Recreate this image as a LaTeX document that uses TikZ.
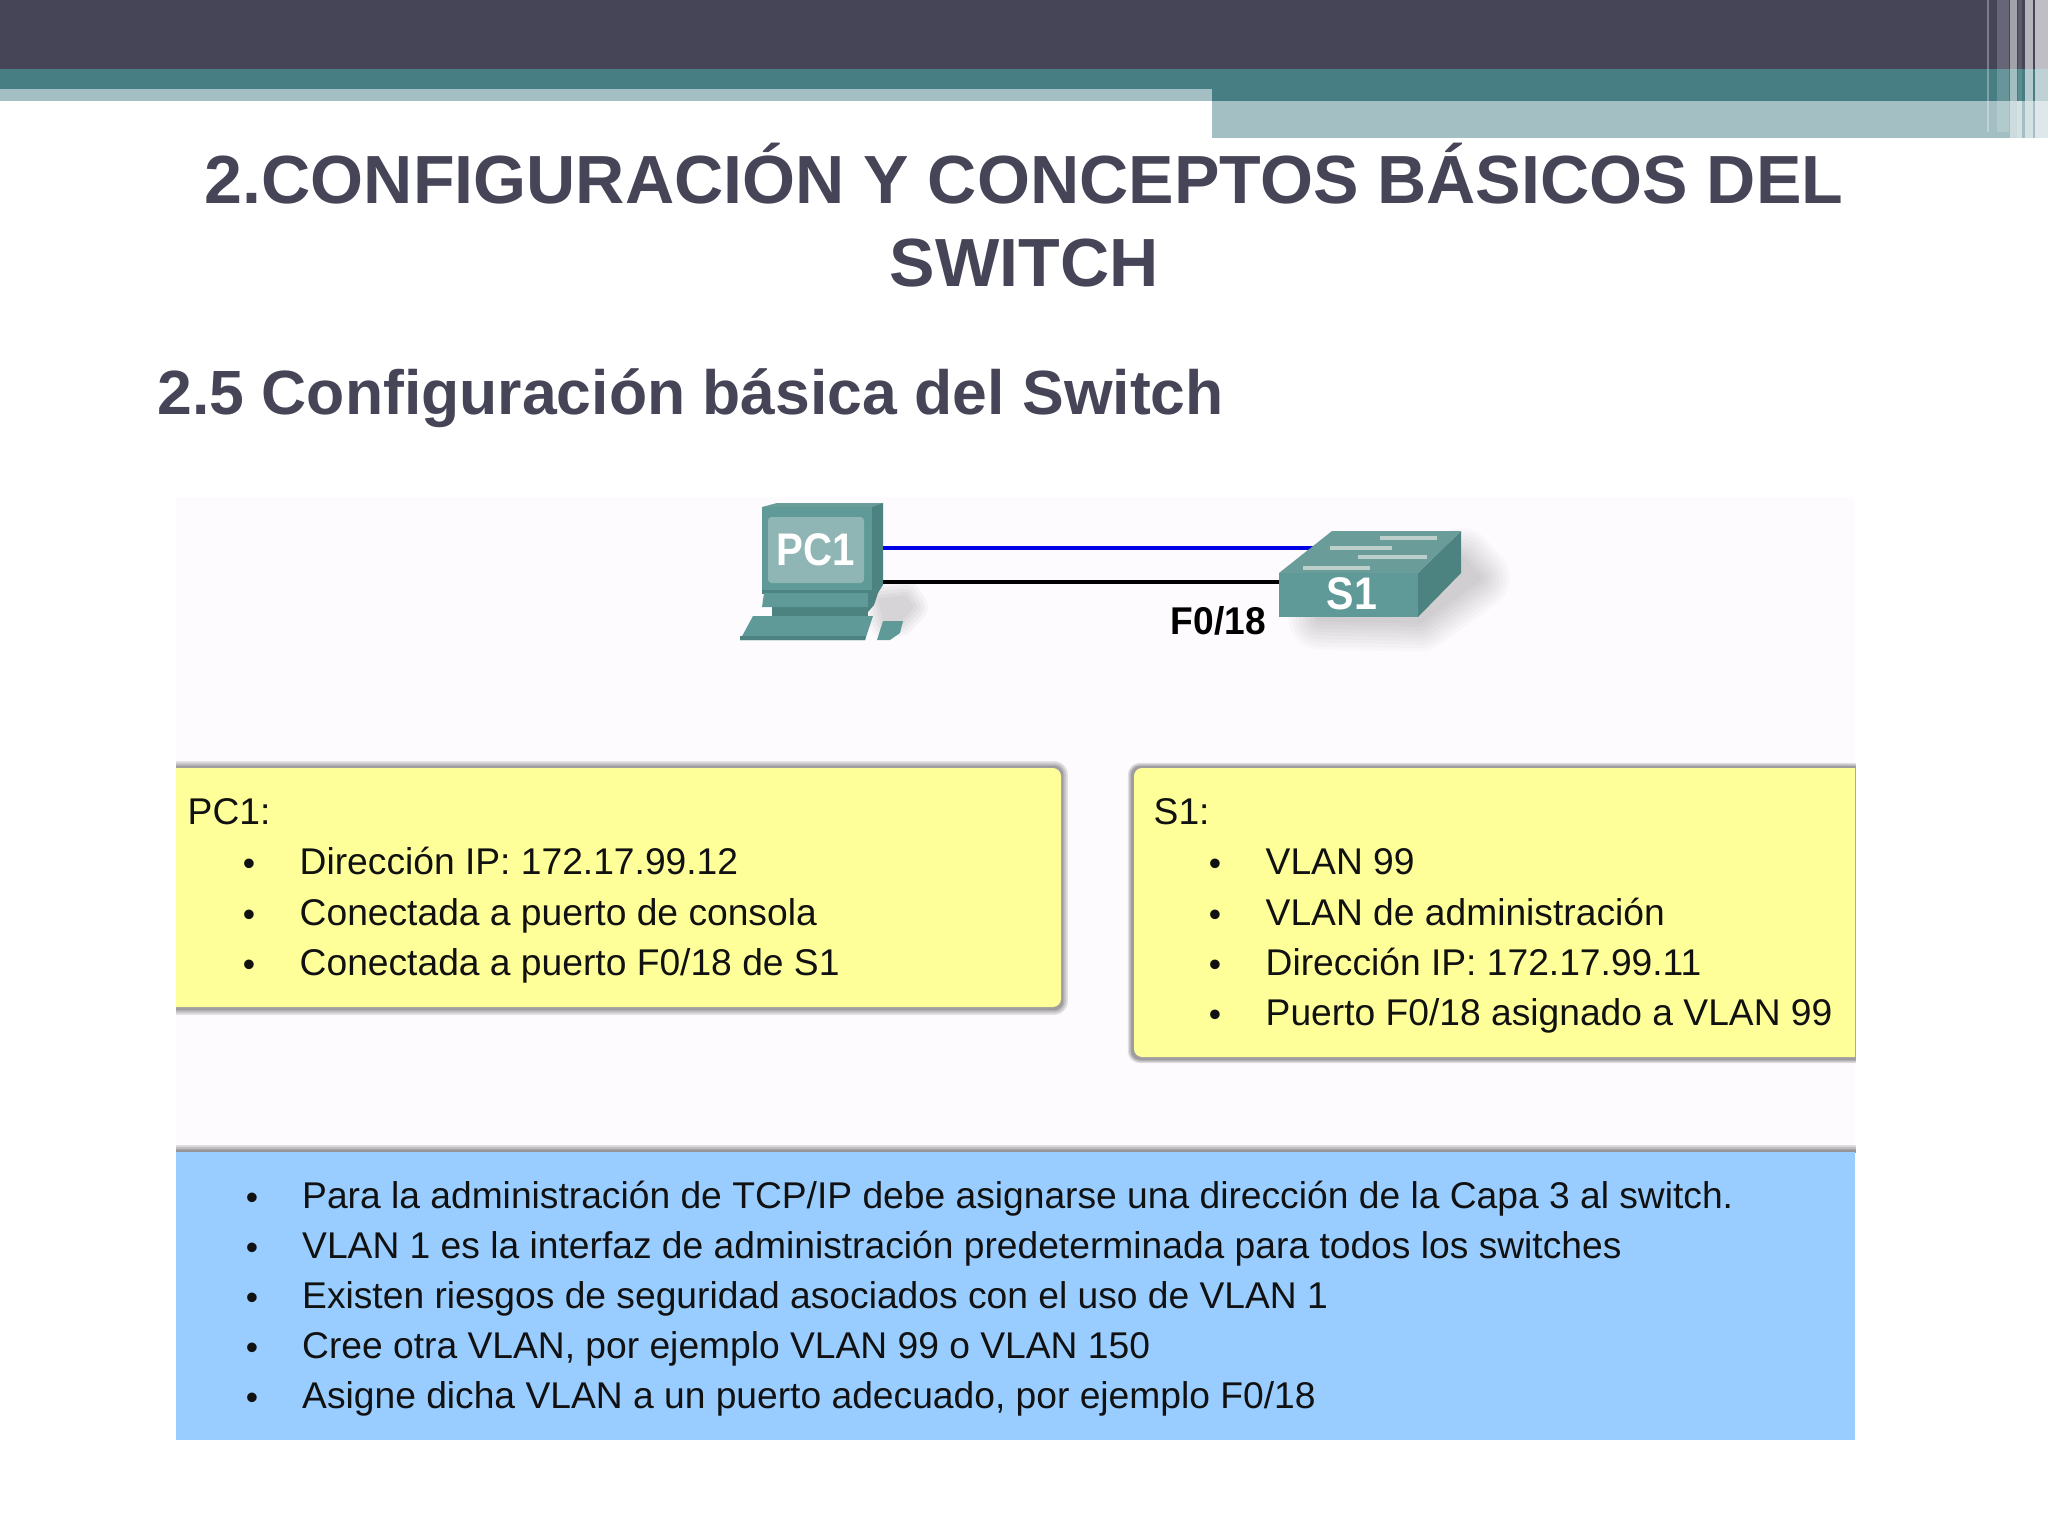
\documentclass[tikz,border=0pt]{standalone}
\usepackage{fontspec}
\setmainfont{Liberation Sans}
\definecolor{hdark}{HTML}{464558}
\definecolor{hteal}{HTML}{467E84}
\definecolor{hlight}{HTML}{A3BFC3}
\definecolor{canvasbg}{HTML}{FDFBFE}
\definecolor{noteyellow}{HTML}{FFFF99}
\definecolor{noteblue}{HTML}{99CCFF}
\definecolor{icona}{HTML}{5F9A98}
\definecolor{iconb}{HTML}{4C8280}
\definecolor{iconc}{HTML}{8FB6B4}
\definecolor{icond}{HTML}{6A9C9A}
\definecolor{iconl}{HTML}{BCCFCB}
\definecolor{bodytext}{HTML}{111111}
\tikzset{
  x=0.01cm,y=-0.01cm,
  title/.style={font=\bfseries\fontsize{19.38pt}{24pt}\selectfont,text=hdark,anchor=base,inner sep=0pt},
  subtitle/.style={font=\bfseries\fontsize{17.77pt}{21pt}\selectfont,text=hdark,anchor=base west,inner sep=0pt},
  line/.style={font=\fontsize{10.58pt}{12pt}\selectfont,text=bodytext,anchor=base west,inner sep=0pt},
  bul/.style={font=\fontsize{10pt}{12pt}\selectfont,text=bodytext,anchor=base,inner sep=0pt,yshift=-0.3pt},
  icontext/.style={font=\bfseries\fontsize{13pt}{15pt}\selectfont,text=white,inner sep=0pt},
  portlabel/.style={font=\bfseries\fontsize{11pt}{13pt}\selectfont,text=black,anchor=base west,inner sep=0pt},
  stripe/.style={fill=white,fill opacity=#1,draw=none},
}
% soft shadow: #1 opacity per layer, #2 list of stroke widths, #3 path
\newcommand{\softshadow}[3]{%
  \foreach \w in {#2}{%
    \begin{scope}[transparency group,opacity=#1]
      \filldraw[black,line width=\w pt,line join=round] #3;
    \end{scope}}}
\begin{document}
\begin{tikzpicture}
\useasboundingbox (0,0) rectangle (2048,1536);
\fill[white] (0,0) rectangle (2048,1536);
% header
\fill[hdark] (0,0) rectangle (2048,69);
\fill[hteal] (0,69) rectangle (2048,101);
\fill[hlight] (0,89) rectangle (1212,101);
\fill[hlight] (1212,101) rectangle (2048,138);
\foreach \xa/\xb/\o in {1987/1989/.3,1997/2009/.18,2010/2017/.5,2018/2022/.12,2025/2033/.6,2035/2048/.65}
  \fill[stripe=\o] (\xa,0) rectangle (\xb,101);
\foreach \xa/\xb/\o in {1987/1989/.3,1997/2009/.18}
  \fill[stripe=\o] (\xa,101) rectangle (\xb,132);
\foreach \xa/\xb/\o in {2010/2017/.45,2017/2022/.55,2025/2033/.55,2035/2048/.65}
  \fill[stripe=\o] (\xa,101) rectangle (\xb,138);
% titles
\node[title] (t1) at (1024,203.5) {2.CONFIGURACIÓN Y CONCEPTOS BÁSICOS DEL};
\node[title] (t2) at (1024,286) {SWITCH};
\node[subtitle] (t3) at (157,414) {2.5 Configuración básica del Switch};
% canvas
\fill[canvasbg] (176,497) rectangle (1855,1440);
% note boxes with soft shadows, cut at the canvas sides
\begin{scope}
  \clip (176,740) rectangle (1855,1152);
  \softshadow{.11}{3.4,2.4,1.4,.7}{[rounded corners=2.3pt] (120,767) rectangle (1062,1009)}
  \softshadow{.11}{2.4,1.7,1,.5}{[rounded corners=2.3pt] (1132,767) rectangle (1910,1059)}
  \softshadow{.12}{3.4,2.4,1.4,.6}{(120,1151) rectangle (1910,1300)}
  \fill[noteyellow,rounded corners=2.3pt] (120,768) rectangle (1061,1007);
  \fill[noteyellow,rounded corners=2.3pt] (1134,768) rectangle (1910,1057);
\end{scope}
\fill[noteblue] (176,1152) rectangle (1855,1440);
% PC1 note
\node[line] (pa) at (187,824) {PC1:};
\node[bul] (pab1) at (249,874) {•};
\node[line] (pa1) at (299,874.5) {Dirección IP: 172.17.99.12};
\node[bul] (pab2) at (249,925) {•};
\node[line] (pa2) at (299,925) {Conectada a puerto de consola};
\node[bul] (pab3) at (249,975) {•};
\node[line] (pa3) at (299,975) {Conectada a puerto F0/18 de S1};
% S1 note
\node[line] (sa) at (1153,824) {S1:};
\node[bul] (sab1) at (1215,874) {•};
\node[line] (sa1) at (1265,874.5) {VLAN 99};
\node[bul] (sab2) at (1215,925) {•};
\node[line] (sa2) at (1265,925) {VLAN de administración};
\node[bul] (sab3) at (1215,975) {•};
\node[line] (sa3) at (1265,975) {Dirección IP: 172.17.99.11};
\node[bul] (sab4) at (1215,1025) {•};
\node[line] (sa4) at (1265,1025) {Puerto F0/18 asignado a VLAN 99};
% blue note
\node[bul] (bb1) at (252,1208) {•};
\node[line] (b1) at (301.5,1208) {Para la administración de TCP/IP debe asignarse una dirección de la Capa 3 al switch.};
\node[bul] (bb2) at (252,1258) {•};
\node[line] (b2) at (301.5,1258) {VLAN 1 es la interfaz de administración predeterminada para todos los switches};
\node[bul] (bb3) at (252,1308) {•};
\node[line] (b3) at (301.5,1308) {Existen riesgos de seguridad asociados con el uso de VLAN 1};
\node[bul] (bb4) at (252,1358) {•};
\node[line] (b4) at (301.5,1358) {Cree otra VLAN, por ejemplo VLAN 99 o VLAN 150};
\node[bul] (bb5) at (252,1408) {•};
\node[line] (b5) at (301.5,1408) {Asigne dicha VLAN a un puerto adecuado, por ejemplo F0/18};
% shadows of the icons
\softshadow{.03}{1,3,5,7,9}{(880,600) -- (905,597) -- (912,607) -- (900,620) -- (885,622) -- cycle}
\softshadow{.018}{2,4,6,8,10,12,14,16,18}{(1320,618) -- (1420,620) -- (1478,578) -- (1462,560) -- cycle}
% connectors
\coordinate (pcA) at (882,548);
\coordinate (swA) at (1316,548);
\coordinate (pcB) at (877,582);
\coordinate (swB) at (1281,582);
\draw[blue!90!black,line width=0.95pt] (pcA) -- (swA);
\draw[black,line width=1pt] (pcB) -- (swB);
% PC icon
\fill[iconb] (777,503) -- (883,503) -- (883,585) -- (872,602) -- (872,507) -- cycle;
\fill[icond] (762,507) -- (777,503) -- (883,503) -- (872,507) -- cycle;
\fill[icona] (762,507) rectangle (872,590);
\fill[iconb] (762,590) -- (872,590) -- (872,594) -- (762,594) -- cycle;
\fill[iconc,rounded corners=1pt] (768,517) rectangle (864,583);
\fill[iconb] (772,605) -- (868,605) -- (868,618) -- (772,618) -- cycle;
\fill[iconb] (868,593) -- (879,590) -- (874,605) -- (868,612) -- cycle;
\fill[icona] (764,593) -- (868,593) -- (868,607) -- (762,607) -- cycle;
\fill[icona] (753,616) -- (873,616) -- (865,640) -- (740,640) -- cycle;
\fill[iconb] (740,636) -- (866,636) -- (865,640) -- (740,640) -- cycle;
\fill[icona] (883,621) -- (903,621) -- (900,633) -- (890,640) -- (877,640) -- cycle;
\node[icontext] (pc) at (816,550) {\scalebox{.88}[1]{PC1}};
% switch icon
\fill[iconb] (1418,573) -- (1461,531) -- (1461,573) -- (1418,617) -- cycle;
\fill[icond] (1279,573) -- (1332,531) -- (1461,531) -- (1418,573) -- cycle;
\fill[icona] (1279,573) rectangle (1418,617);
\foreach \xa/\ya/\xb in {1380/538/1437,1330/548/1392,1358/557/1427,1303/568/1370}
  \draw[iconl,line width=0.9pt] (\xa,\ya) -- (\xb,\ya);
\node[icontext] (sw) at (1352,594) {\scalebox{.9}[1]{S1}};
\node[portlabel] (port) at (1170,634) {\scalebox{.96}[1]{F0/18}};
\end{tikzpicture}
\end{document}
